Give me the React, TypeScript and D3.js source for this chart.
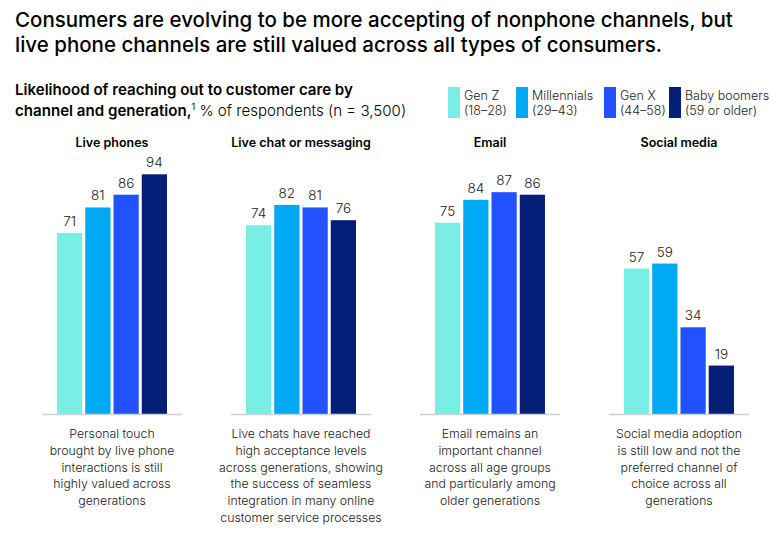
import React from "react";
import * as d3 from "d3";

const channels = ["Live phones", "Live chat or messaging", "Email", "Social media"];
const generations = ["Gen Z", "Millennials", "Gen X", "Baby boomers"];
const genRanges = ["(18–28)", "(29–43)", "(44–58)", "(59 or older)"];
const genZ = [71, 74, 75, 57];
const millennials = [81, 82, 84, 59];
const genX = [86, 81, 87, 34];
const boomers = [94, 76, 86, 19];
const seriesValues = [genZ, millennials, genX, boomers];
const colors = ["#78EEE4", "#00A9F4", "#2251FF", "#051F79"];
const notes = [
  ["Personal touch", "brought by live phone", "interactions is still", "highly valued across", "generations"],
  ["Live chats have reached", "high acceptance levels", "across generations, showing", "the success of seamless", "integration in many online", "customer service processes"],
  ["Email remains an", "important channel", "across all age groups", "and particularly among", "older generations"],
  ["Social media adoption", "is still low and not the", "preferred channel of", "choice across all", "generations"],
];
const titleLines = [
  "Consumers are evolving to be more accepting of nonphone channels, but",
  "live phone channels are still valued across all types of consumers.",
];

const FONT = "Inter, 'Noto Sans', sans-serif";

export default function App() {
  const W = 780, H = 533;
  const x0 = d3.scaleBand<string>().domain(channels).range([42, 749]).paddingInner(0.259);
  const x1 = d3.scaleBand<string>().domain(generations).range([15, 125]).paddingInner(0.107);
  const y = d3.scaleLinear().domain([0, 100]).range([414, 159]);
  const legendX = [448, 516, 604, 669];

  return (
    <div style={{ position: "absolute", left: 0, top: 0 }}>
      <svg width={W} height={H} style={{ display: "block", background: "#fff" }} fontFamily={FONT}>
        {titleLines.map((t, i) => (
          <text key={i} x={15} y={27 + i * 25} fontSize={20.5} fontWeight={500} fill="#000">{t}</text>
        ))}
        <text x={15} y={95} fontSize={15.1} fontWeight={600} fill="#000">
          Likelihood of reaching out to customer care by
        </text>
        <text x={15} y={116} fontSize={15.1} fill="#000">
          <tspan fontWeight={600}>channel and generation,</tspan>
          <tspan fontSize={9} dy={-6}>1</tspan>
          <tspan dy={6} fontWeight={300}> % of respondents (n = 3,500)</tspan>
        </text>
        {generations.map((g, i) => (
          <g key={g}>
            <rect x={legendX[i]} y={87} width={12} height={31} fill={colors[i]} />
            <text x={legendX[i] + 16} y={100} fontSize={12.5} fontWeight={300} fill="#222">{g}</text>
            <text x={legendX[i] + 16} y={115} fontSize={12.5} fontWeight={300} fill="#222">{genRanges[i]}</text>
          </g>
        ))}
        {channels.map((c, ci) => {
          const px = x0(c)!;
          const cx = px + x0.bandwidth() / 2;
          return (
            <g key={c}>
              <text x={cx} y={147} textAnchor="middle" fontSize={12.5} fontWeight={600} fill="#000">{c}</text>
              {generations.map((g, gi) => {
                const v = seriesValues[gi][ci];
                const bx = px + x1(g)!;
                return (
                  <g key={g}>
                    <rect x={bx} y={y(v)} width={x1.bandwidth()} height={y(0) - y(v)} fill={colors[gi]} />
                    <text x={bx + x1.bandwidth() / 2} y={y(v) - 7} textAnchor="middle" fontSize={13.5} fontWeight={300} fill="#222">{v}</text>
                  </g>
                );
              })}
              <line x1={px} x2={px + x0.bandwidth()} y1={y(0) + 0.5} y2={y(0) + 0.5} stroke="#d0d0d0" strokeWidth={1.5} />
              {notes[ci].map((l, li) => (
                <text key={li} x={cx} y={438 + li * 16.8} textAnchor="middle" fontSize={12.3} fontWeight={300} fill="#222">{l}</text>
              ))}
            </g>
          );
        })}
      </svg>
    </div>
  );
}
